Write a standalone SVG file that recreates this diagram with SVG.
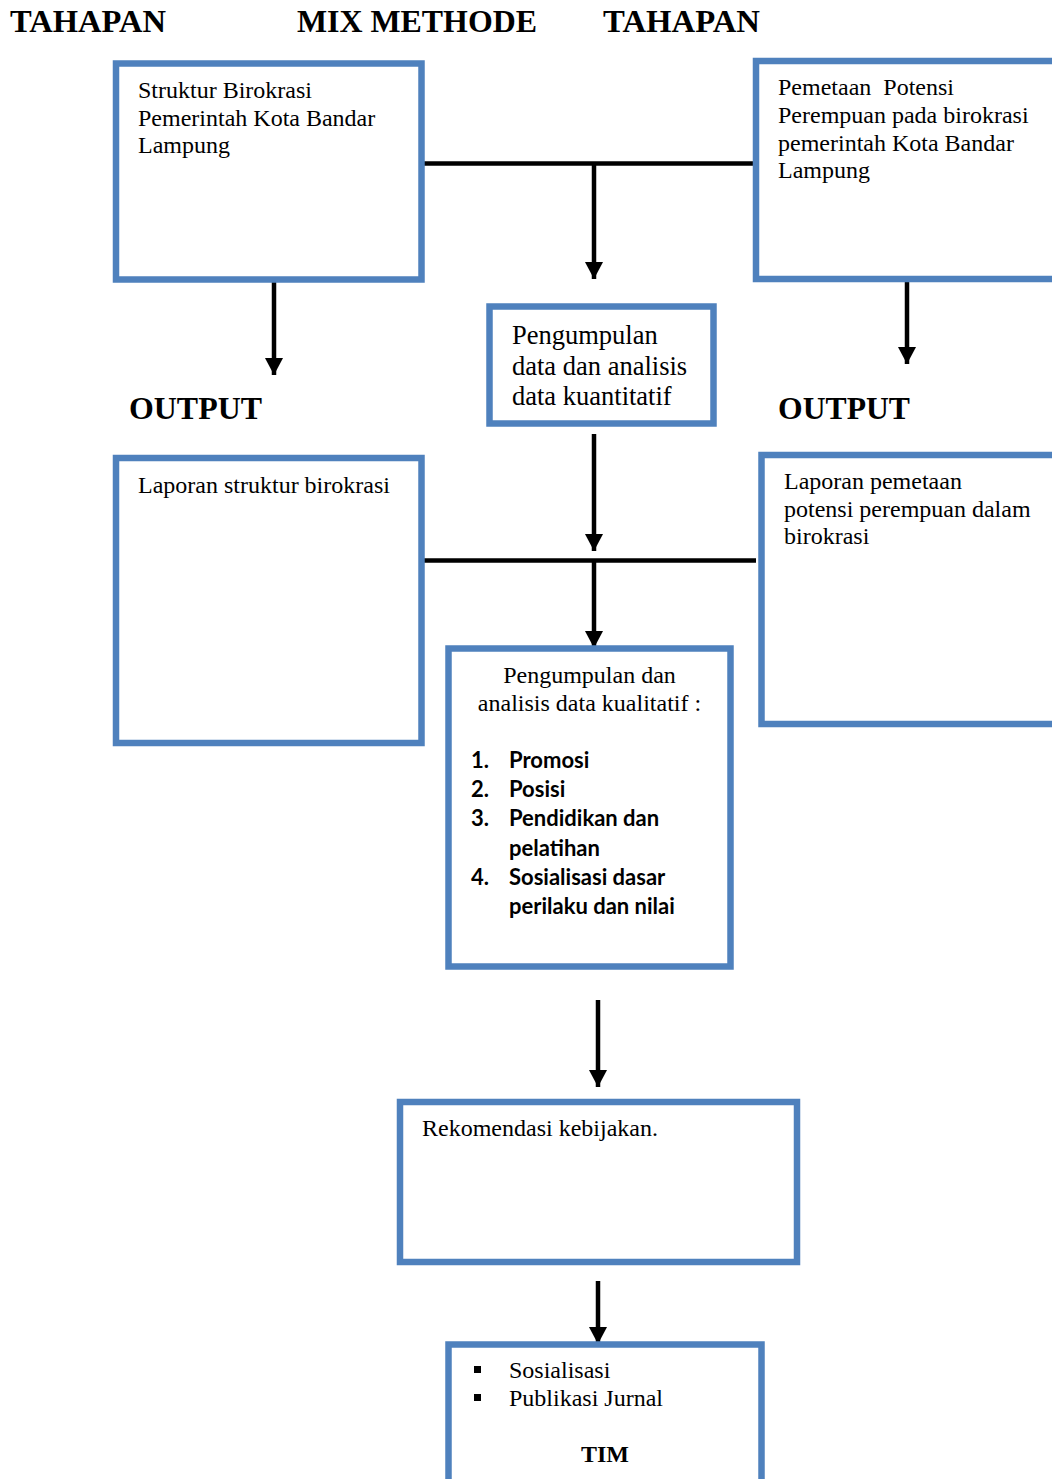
<svg xmlns="http://www.w3.org/2000/svg" width="1052" height="1479" viewBox="0 0 1052 1479">
<defs>
<style>
.box{fill:#fff;stroke:#4F81BD;stroke-width:6.5}
.t{font-family:"Liberation Serif","Times New Roman",serif;font-size:24px;fill:#000;white-space:pre}
.tq{font-family:"Liberation Serif","Times New Roman",serif;font-size:26.5px;fill:#000}
.h{font-family:"Liberation Serif","Times New Roman",serif;font-size:31px;font-weight:bold;fill:#000}
.b{font-family:Lato,"Open Sans",sans-serif;font-size:22px;font-weight:bold;fill:#000}
.c{stroke:#000;stroke-width:4.5;fill:none}
</style>
<marker id="ah" markerUnits="userSpaceOnUse" markerWidth="18" markerHeight="18" viewBox="0 0 18 18" refX="17" refY="9" orient="auto">
<path d="M0,0 L17,9 L0,18 Z" fill="#000"/>
</marker>
</defs>
<rect width="1052" height="1479" fill="#fff"/>

<g id="headers">
<text class="h" x="10" y="32" textLength="156" lengthAdjust="spacingAndGlyphs">TAHAPAN</text>
<text class="h" x="297" y="32" textLength="240" lengthAdjust="spacingAndGlyphs">MIX METHODE</text>
<text class="h" x="603" y="32" textLength="157" lengthAdjust="spacingAndGlyphs">TAHAPAN</text>
<text class="h" x="129" y="419" textLength="133" lengthAdjust="spacingAndGlyphs">OUTPUT</text>
<text class="h" x="778" y="419" textLength="132" lengthAdjust="spacingAndGlyphs">OUTPUT</text>
</g>

<g id="connectors">
<line class="c" x1="422" y1="163.5" x2="756" y2="163.5"/>
<line class="c" x1="594" y1="163.5" x2="594" y2="279" marker-end="url(#ah)"/>
<line class="c" x1="274" y1="282" x2="274" y2="375" marker-end="url(#ah)"/>
<line class="c" x1="907" y1="282" x2="907" y2="364" marker-end="url(#ah)"/>
<line class="c" x1="594" y1="434" x2="594" y2="551" marker-end="url(#ah)"/>
<line class="c" x1="422" y1="560.5" x2="756" y2="560.5"/>
<line class="c" x1="594" y1="560.5" x2="594" y2="648" marker-end="url(#ah)"/>
<line class="c" x1="598" y1="1000" x2="598" y2="1087" marker-end="url(#ah)"/>
<line class="c" x1="598" y1="1281" x2="598" y2="1344" marker-end="url(#ah)"/>
</g>

<g id="struktur">
<rect class="box" x="116" y="63.5" width="305.5" height="216"/>
<text class="t" x="138" y="98">Struktur Birokrasi</text>
<text class="t" x="138" y="125.5">Pemerintah Kota Bandar</text>
<text class="t" x="138" y="153">Lampung</text>
</g>

<g id="pemetaan">
<rect class="box" x="756" y="61" width="310" height="218"/>
<text class="t" x="778" y="95">Pemetaan  Potensi</text>
<text class="t" x="778" y="123">Perempuan pada birokrasi</text>
<text class="t" x="778" y="151">pemerintah Kota Bandar</text>
<text class="t" x="778" y="178">Lampung</text>
</g>

<g id="kuantitatif">
<rect class="box" x="489.5" y="306.5" width="224" height="117"/>
<text class="tq" x="512" y="344">Pengumpulan</text>
<text class="tq" x="512" y="374.5">data dan analisis</text>
<text class="tq" x="512" y="405">data kuantitatif</text>
</g>

<g id="laporan-struktur">
<rect class="box" x="116" y="458" width="305.5" height="285"/>
<text class="t" x="138" y="493">Laporan struktur birokrasi</text>
</g>

<g id="laporan-pemetaan">
<rect class="box" x="761.5" y="455" width="310" height="269"/>
<text class="t" x="784" y="489">Laporan pemetaan</text>
<text class="t" x="784" y="517">potensi perempuan dalam</text>
<text class="t" x="784" y="544">birokrasi</text>
</g>

<g id="kualitatif">
<rect class="box" x="448.5" y="648.5" width="282" height="318"/>
<text class="t" x="589.5" y="683" text-anchor="middle">Pengumpulan dan</text>
<text class="t" x="589.5" y="711" text-anchor="middle">analisis data kualitatif :</text>
<text class="b" x="471" y="768">1.</text><text class="b" x="509" y="768">Promosi</text>
<text class="b" x="471" y="797">2.</text><text class="b" x="509" y="797">Posisi</text>
<text class="b" x="471" y="826">3.</text><text class="b" x="509" y="826">Pendidikan dan</text>
<text class="b" x="509" y="856">pelatihan</text>
<text class="b" x="471" y="885">4.</text><text class="b" x="509" y="885">Sosialisasi dasar</text>
<text class="b" x="509" y="914">perilaku dan nilai</text>
</g>

<g id="rekomendasi">
<rect class="box" x="400" y="1102" width="397" height="160"/>
<text class="t" x="422" y="1136">Rekomendasi kebijakan.</text>
</g>

<g id="output-tim">
<rect class="box" x="448.5" y="1344.5" width="313" height="160"/>
<rect x="474" y="1366" width="7" height="7" fill="#000"/>
<rect x="474" y="1394" width="7" height="7" fill="#000"/>
<text class="t" x="509" y="1378">Sosialisasi</text>
<text class="t" x="509" y="1406">Publikasi Jurnal</text>
<text class="t" x="605" y="1462" text-anchor="middle" font-weight="bold">TIM</text>
</g>
</svg>
